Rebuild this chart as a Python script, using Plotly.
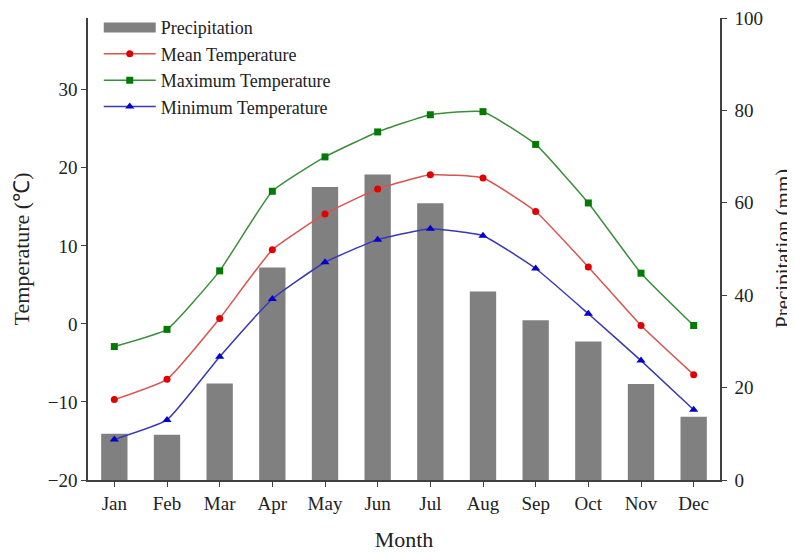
import plotly.graph_objects as go

months = ["Jan", "Feb", "Mar", "Apr", "May", "Jun", "Jul", "Aug", "Sep", "Oct", "Nov", "Dec"]
precipitation = [10.0, 9.8, 20.9, 46.0, 63.4, 66.1, 59.9, 40.8, 34.6, 30.0, 20.8, 13.7]
mean_temp = [-9.7, -7.1, 0.7, 9.5, 14.1, 17.3, 19.1, 18.7, 14.4, 7.3, -0.2, -6.5]
max_temp = [-2.9, -0.7, 6.8, 17.0, 21.4, 24.6, 26.8, 27.2, 23.0, 15.5, 6.5, -0.2]
min_temp = [-14.8, -12.3, -4.2, 3.2, 7.9, 10.8, 12.2, 11.3, 7.1, 1.3, -4.7, -11.0]

FONT = "Liberation Serif, Times New Roman, serif"
AX = "#404040"
TXT = "#222222"

fig = go.Figure()
fig.add_trace(go.Bar(x=months, y=precipitation, name="Precipitation", marker_color="#808080",
                     marker_line_width=0, width=0.5, yaxis="y", showlegend=False))
# legend entry for the bars (wide rectangle symbol)
fig.add_trace(go.Scatter(x=[None], y=[None], name="Precipitation", mode="lines",
                         line=dict(color="#808080", width=11), yaxis="y"))
fig.add_trace(go.Scatter(x=months, y=mean_temp, name="Mean Temperature", mode="lines+markers",
                         line=dict(color="#d9534f", width=1.5, shape="spline", smoothing=0.4),
                         marker=dict(color="#e00000", size=7, symbol="circle"), yaxis="y2"))
fig.add_trace(go.Scatter(x=months, y=max_temp, name="Maximum Temperature", mode="lines+markers",
                         line=dict(color="#3a8f3a", width=1.5, shape="spline", smoothing=0.4),
                         marker=dict(color="#007a00", size=7, symbol="square"), yaxis="y2"))
fig.add_trace(go.Scatter(x=months, y=min_temp, name="Minimum Temperature", mode="lines+markers",
                         line=dict(color="#3838b8", width=1.5, shape="spline", smoothing=0.4),
                         marker=dict(color="#0000cc", size=8, symbol="triangle-up"), yaxis="y2"))

fig.update_layout(
    width=787, height=544,
    margin=dict(l=80, r=75, t=10, b=72, autoexpand=False),
    paper_bgcolor="white", plot_bgcolor="white",
    font=dict(family=FONT, size=19, color=TXT),
    showlegend=True,
    legend=dict(x=0.017, y=1.019, xanchor="left", yanchor="top",
                bgcolor="rgba(0,0,0,0)",
                font=dict(family=FONT, size=18, color=TXT), tracegroupgap=0, itemwidth=52),
    xaxis=dict(range=[-0.5, 11.5], showline=True, linecolor=AX, linewidth=1.5, automargin=False,
               ticks="outside", ticklen=5, tickcolor=AX, showgrid=False, zeroline=False,
               tickfont=dict(size=19), ticklabelstandoff=0, ticklabeloverflow="allow",
               title=dict(text="Month", font=dict(size=22), standoff=24)),
    yaxis=dict(side="right", range=[0, 100], tickvals=[0, 20, 40, 60, 80, 100], showline=True,
               linecolor=AX, linewidth=1.5, ticks="outside", ticklen=5, tickcolor=AX,
               showgrid=False, zeroline=False, automargin=False, tickfont=dict(size=19),
               ticklabelstandoff=4, ticklabeloverflow="allow"),
    yaxis2=dict(side="left", overlaying="y", range=[-20, 39.2], tickvals=[-20, -10, 0, 10, 20, 30],
                showline=True, linecolor=AX, linewidth=1.5, ticks="outside", ticklen=5, tickcolor=AX,
                showgrid=False, zeroline=False, automargin=False, tickfont=dict(size=19),
                ticklabeloverflow="allow",
                title=dict(text="Temperature (℃)", font=dict(size=22), standoff=12)),
    annotations=[dict(text="Precipitation (mm)", x=1, y=0.5, xref="paper", yref="paper",
                      xanchor="center", yanchor="middle", xshift=63, textangle=-90,
                      showarrow=False, font=dict(family=FONT, size=21, color=TXT))],
)

fig.write_html("out.html")
